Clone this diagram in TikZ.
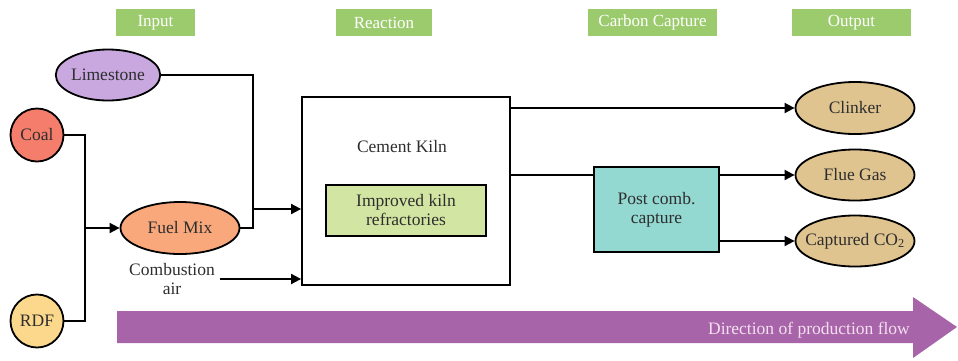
\documentclass[tikz,border=0pt]{standalone}
\usepackage{fontspec}
\setmainfont{Liberation Serif}
\usetikzlibrary{shapes.geometric,arrows.meta}
\definecolor{hdrgreen}{HTML}{9CCB6E}
\definecolor{limec}{HTML}{C9A8E0}
\definecolor{coalc}{HTML}{F47D6B}
\definecolor{rdfc}{HTML}{FBD88C}
\definecolor{fuelc}{HTML}{F9A87B}
\definecolor{outc}{HTML}{E0C490}
\definecolor{refc}{HTML}{D3E5A2}
\definecolor{postc}{HTML}{93D8D1}
\definecolor{flowc}{HTML}{A864A8}
\definecolor{flowtxt}{HTML}{F4DFF1}
\definecolor{txtc}{HTML}{2E2E2E}
\tikzset{
  hdr/.style={fill=hdrgreen, text=white, minimum height=27pt, inner sep=0pt, font=\fontsize{17}{19}\selectfont},
  ell/.style={ellipse, draw=black, line width=1.8pt, inner sep=0pt, text=txtc, font=\fontsize{17.5}{19}\selectfont},
  circ/.style={circle, draw=black, line width=1.8pt, inner sep=0pt, minimum size=53pt, text=txtc, font=\fontsize{17.5}{19}\selectfont},
  boxn/.style={draw=black, line width=1.8pt, inner sep=0pt, text=txtc, align=center, font=\fontsize{17.5}{19}\selectfont},
  plain/.style={text=txtc, align=center, font=\fontsize{17.5}{19}\selectfont, inner sep=0pt},
  conn/.style={line width=1.8pt},
  arr/.style={line width=1.8pt, -{Triangle[length=10pt,width=10pt]}}
}
\begin{document}
\begin{tikzpicture}[x=1pt,y=-1pt]
\useasboundingbox (0,0) rectangle (958,360);
% headers
\node[hdr, minimum width=79pt] (hin) at (155.5,22.5) {Input};
\node[hdr, minimum width=96pt] (hre) at (384,22.5) {Reaction};
\node[hdr, minimum width=129pt] (hcc) at (652.5,22.5) {Carbon Capture};
\node[hdr, minimum width=119pt] (hout) at (851.5,22.5) {Output};
% flow arrow
\fill[flowc] (117,311) -- (913,311) -- (913,297) -- (957,327) -- (913,358) -- (913,343) -- (117,343) -- cycle;
\node[anchor=east, text=flowtxt, inner sep=0pt, font=\fontsize{17.5}{19}\selectfont] (flowtext) at (910,330) {Direction of production flow};
% inputs
\node[ell, fill=limec, minimum width=102pt, minimum height=51pt] (lime) at (108,75) {Limestone};
\node[circ, fill=coalc] (coal) at (37,135) {Coal};
\node[circ, fill=rdfc] (rdf) at (37,321) {RDF};
\node[ell, fill=fuelc, minimum width=119pt, minimum height=52pt] (fuel) at (180,228) {Fuel Mix};
\node[plain] (comb) at (172,279) {Combustion\\air};
% kiln
\node[boxn, minimum width=208pt, minimum height=188pt] (kiln) at (406,191) {};
\node[plain] (kilnlbl) at (402,147) {Cement Kiln};
\node[boxn, fill=refc, minimum width=160pt, minimum height=51pt] (refr) at (406,210.5) {Improved kiln\\refractories};
% capture
\node[boxn, fill=postc, minimum width=125pt, minimum height=85pt] (post) at (656.5,209.5) {Post comb.\\capture};
% outputs
\node[ell, fill=outc, minimum width=119pt, minimum height=52pt] (clinker) at (855,108) {Clinker};
\node[ell, fill=outc, minimum width=119pt, minimum height=51pt] (flue) at (855,175) {Flue Gas};
\node[ell, fill=outc, minimum width=119pt, minimum height=51pt] (capt) at (855,241) {\makebox[60pt][c]{Captured CO\textsubscript{2}}};
% connectors
\coordinate (j1) at (85,228);
\coordinate (j2) at (253,209);
\draw[conn] (coal.east) -| (j1);
\draw[conn] (rdf.east) -| (j1);
\draw[arr] (j1) -- (fuel.west);
\draw[conn] (lime.east) -| (j2);
\draw[conn] (fuel.east) -| (j2);
\draw[arr] (j2) -- (kiln.west |- j2);
\draw[arr] ([xshift=5pt]comb.east) -- (kiln.west |- comb.east);
\draw[arr] (kiln.east |- clinker) -- (clinker.west);
\draw[conn] (kiln.east |- flue) -- (post.west |- flue);
\draw[arr] (post.east |- flue) -- (flue.west);
\draw[arr] (post.east |- capt) -- (capt.west);
\end{tikzpicture}
\end{document}
